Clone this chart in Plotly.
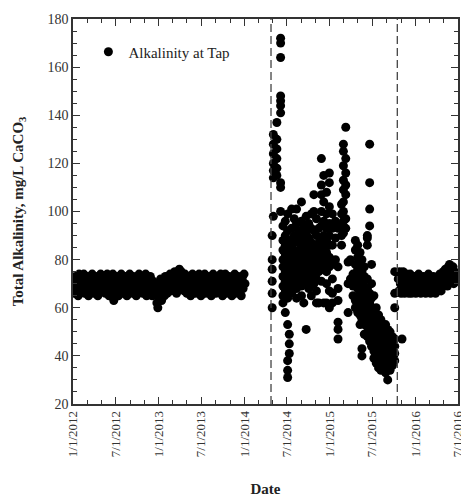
import pandas as pd
import plotly.graph_objects as go

# --- data ---
# stable period before the switch: one reading every 4 days from 2012-01-03
before_start = "2012-01-03"
before_step_days = 4
before_values = [
    70, 66, 73, 68, 71, 65, 74, 69,
    67, 72, 70, 74, 66, 71, 68, 73,
    65, 70, 72, 67, 74, 69, 66, 71,
    73, 68, 65, 72, 70, 74, 67, 71,
    69, 73, 66, 70, 74, 68, 65, 72,
    69, 66, 74, 63, 71, 67, 73, 70,
    65, 72, 68, 74, 70, 66, 71, 73,
    68, 65, 72, 69, 74, 67, 70, 66,
    73, 71, 68, 65, 72, 70, 74, 67,
    69, 73, 66, 71, 68, 74, 65, 70,
    72, 67, 73, 69, 65, 71, 68, 66,
    70, 62, 60, 64, 67, 72, 63, 69,
    71, 65, 73, 68, 66, 72, 70, 74,
    67, 71, 69, 73, 75, 70, 66, 74,
    72, 76, 68, 75, 71, 73, 67, 74,
    70, 66, 73, 69, 72, 65, 71, 74,
    68, 70, 66, 73, 71, 67, 74, 69,
    65, 72, 70, 68, 74, 66, 71, 73,
    67, 69, 72, 65, 70, 74, 68, 71,
    66, 73, 69, 71, 67, 74, 70, 65,
    72, 68, 74, 66, 71, 69, 73, 67,
    70, 65, 72, 68, 74, 66, 71, 69,
    73, 67, 70, 65, 72, 68, 74, 70,
]

# Flint River period: sampling dates and the readings taken around each date
flint_dates = [
    "2014-04-30", "2014-05-05", "2014-05-20", "2014-06-05", "2014-06-15",
    "2014-06-25", "2014-07-05", "2014-07-12", "2014-07-22", "2014-08-02",
    "2014-08-12", "2014-08-22", "2014-09-02", "2014-09-12", "2014-09-22",
    "2014-10-03", "2014-10-14", "2014-10-25", "2014-11-05", "2014-11-15",
    "2014-11-26", "2014-12-06", "2014-12-18", "2014-12-30", "2015-01-12",
    "2015-01-25", "2015-02-05", "2015-02-20", "2015-02-28", "2015-03-10",
    "2015-03-20", "2015-03-30", "2015-04-10", "2015-04-20", "2015-04-30",
    "2015-05-10", "2015-05-18", "2015-05-28", "2015-06-10", "2015-06-20",
    "2015-06-28", "2015-07-08", "2015-07-18", "2015-07-28", "2015-08-07",
    "2015-08-17", "2015-08-27", "2015-09-05", "2015-09-15", "2015-09-25",
    "2015-10-05", "2015-11-05",
]
flint_values = [
    [80, 76, 71, 66, 60, 90],
    [132, 128, 124, 120, 117, 114, 98],
    [137, 130, 126, 122, 118, 115],
    [172, 170, 164, 148, 146, 144, 141, 112, 110, 100],
    [94, 88, 84, 80, 77, 73, 69, 65, 62],
    [96, 90, 86, 82, 79, 75, 71, 67, 64, 58],
    [99, 92, 85, 81, 78, 74, 70, 64, 53, 38, 34, 31],
    [88, 83, 80, 76, 72, 68, 49, 45, 41],
    [101, 93, 86, 82, 79, 75, 71, 66],
    [97, 90, 84, 80, 77, 73, 69],
    [101, 95, 88, 83, 79, 76, 72, 68, 64],
    [92, 87, 82, 78, 74, 70],
    [104, 96, 89, 85, 81, 77, 73, 69, 65],
    [94, 88, 84, 80, 76, 72, 62],
    [98, 91, 86, 82, 78, 74, 70, 51],
    [95, 89, 85, 81, 77, 73, 68],
    [99, 93, 87, 83, 79, 75, 71, 65],
    [107, 100, 92, 86, 82, 78, 74, 70],
    [97, 90, 85, 80, 76, 72, 67, 62],
    [93, 87, 83, 79, 75, 62],
    [122, 111, 107, 100, 94, 88, 84, 80, 76, 71],
    [115, 104, 96, 90, 85, 81, 77, 62],
    [108, 99, 93, 88, 83, 79, 75, 70, 62],
    [116, 112, 102, 95, 90, 86, 81, 77, 67, 60],
    [99, 93, 86, 78, 72, 66, 62],
    [96, 89, 80],
    [93, 77, 68, 63, 54, 51, 47],
    [103, 99, 94, 90, 86],
    [128, 125, 119, 113, 109, 104, 100, 96, 91],
    [135, 122, 116, 111, 107, 97, 93],
    [79, 70, 58],
    [80, 72],
    [74, 69, 65],
    [88, 84, 78, 70, 63, 60],
    [86, 81, 76, 72, 68, 64, 58],
    [83, 79, 74, 70, 66, 62, 57, 53],
    [80, 75, 71, 67, 63, 59, 55, 43, 40],
    [77, 73, 69, 65, 61, 57, 53, 49],
    [90, 86, 89, 72, 68, 64, 60, 56, 52, 48],
    [128, 112, 101, 94, 66, 62, 58, 54, 50, 46],
    [78, 70, 64, 60, 56, 52, 48, 44],
    [65, 58, 54, 50, 46, 42, 39],
    [60, 55, 51, 47, 43, 40, 37],
    [57, 53, 49, 45, 41, 38, 35],
    [55, 51, 47, 43, 40, 37, 34],
    [52, 48, 44, 41, 38, 35],
    [53, 49, 45, 42, 39, 36, 33],
    [51, 47, 44, 41, 38, 35, 30],
    [50, 46, 43, 40, 37, 34],
    [48, 45, 42, 39, 36],
    [75, 66, 60, 47, 44, 41, 38],
    [47],
]

# back on Detroit water: one reading every 3 days from 2015-10-20
after_start = "2015-10-20"
after_step_days = 3
after_values = [
    72, 67, 75, 70, 66, 74, 69, 75, 71, 66, 73, 70,
    74, 67, 72, 66, 71, 74, 69, 66, 72, 70, 67, 73,
    71, 66, 70, 73, 67, 74, 69, 71, 66, 72, 70, 67,
    73, 69, 71, 66, 72, 70, 67, 74, 69, 71, 66, 72,
    70, 67, 73, 69, 71, 66, 72, 70, 67, 71, 69, 74,
    70, 67, 72, 69, 75, 70, 73, 76, 71, 75, 69, 77,
    73, 78, 71, 76, 74, 72, 77, 70, 75, 73, 71, 74,
]

switch_dates = ["2014-04-25", "2015-10-16"]

tick_dates = ["2012-01-01", "2012-07-01", "2013-01-01", "2013-07-01", "2014-01-01",
              "2014-07-01", "2015-01-01", "2015-07-01", "2016-01-01", "2016-07-01"]
tick_labels = ["1/1/2012", "7/1/2012", "1/1/2013", "7/1/2013", "1/1/2014",
               "7/1/2014", "1/1/2015", "7/1/2015", "1/1/2016", "7/1/2016"]

# --- assemble ---
before_dates = pd.date_range(before_start, periods=len(before_values), freq=f"{before_step_days}D")
after_dates = pd.date_range(after_start, periods=len(after_values), freq=f"{after_step_days}D")

xs, ys = list(before_dates), list(before_values)
for d, vals in zip(flint_dates, flint_values):
    for v in vals:
        xs.append(pd.Timestamp(d))
        ys.append(v)
xs += list(after_dates)
ys += list(after_values)

FONT = "Liberation Serif, Times New Roman, serif"

fig = go.Figure()
fig.add_trace(go.Scatter(
    x=xs, y=ys, mode="markers", name="Alkalinity at Tap",
    marker=dict(color="black", size=9),
))

for d in switch_dates:
    fig.add_shape(type="line", x0=d, x1=d, xref="x", yref="paper", y0=0, y1=1,
                  line=dict(color="#444", width=1.3, dash="8px,4px"))

axis_common = dict(
    showline=True, linecolor="#333", linewidth=1.5, mirror="ticks",
    ticks="inside", ticklen=7, tickcolor="#333", tickwidth=1.2,
    showgrid=False, zeroline=False, ticklabeloverflow="allow",
)

fig.update_xaxes(
    type="date", range=["2012-01-01", "2016-07-01"],
    tickvals=tick_dates, ticktext=tick_labels, tickangle=-90,
    tickfont=dict(family=FONT, size=13, color="#333"),
    minor=dict(ticks="inside", ticklen=4, tickcolor="#333", dtick="M2", tick0="2012-01-01"),
    title=dict(text="<b>Date</b>", font=dict(family=FONT, size=15, color="#222"), standoff=27),
    **axis_common,
)
fig.update_yaxes(
    range=[20, 180], dtick=20, tick0=20,
    tickfont=dict(family=FONT, size=14, color="#333"),
    minor=dict(ticks="inside", ticklen=4, tickcolor="#333", dtick=5),
    title=dict(text="<b>Total Alkalinity, mg/L CaCO<sub>3</sub></b>",
               font=dict(family=FONT, size=15, color="#222"), standoff=20),
    **axis_common,
)

# page body adds an 8px offset, so the figure is drawn 8px smaller than the window
fig.update_layout(
    width=461, height=495,
    margin=dict(l=65, r=4, t=6, b=99),
    paper_bgcolor="white", plot_bgcolor="white",
    font=dict(family=FONT, color="#222"),
    showlegend=True,
    legend=dict(x=0.04, y=0.957, xanchor="left", yanchor="top",
                bgcolor="rgba(0,0,0,0)", font=dict(family=FONT, size=15, color="#222")),
)

fig.write_html("out.html")
